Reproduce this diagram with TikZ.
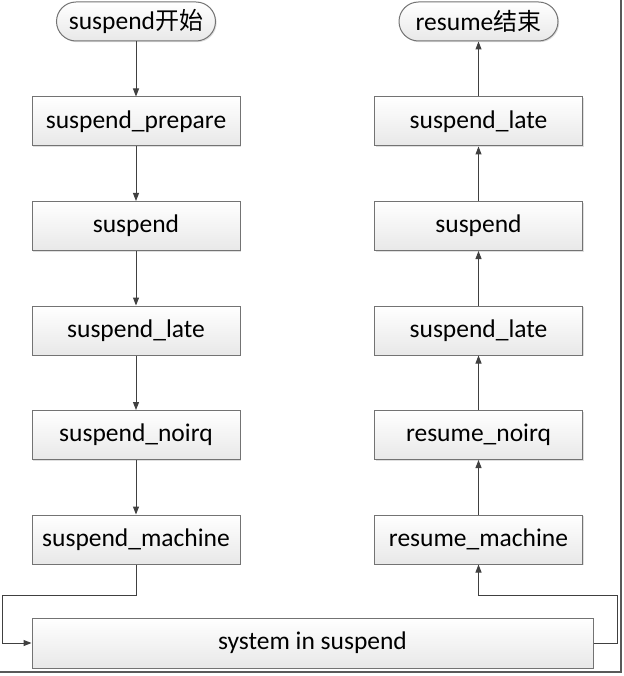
\documentclass[tikz,border=0pt]{standalone}
\usepackage{fontspec}
\setmainfont{Carlito}
\newfontfamily\cjk{Noto Sans CJK SC}
\usetikzlibrary{arrows.meta,shadows}
\tikzset{
  box/.style={shape=rectangle, draw=black!55, line width=1pt, top color=white, bottom color=black!9,
    minimum width=208pt, minimum height=49pt, font=\fontsize{25.5}{28}\selectfont,
    drop shadow={shadow xshift=1.2pt, shadow yshift=-1.2pt, opacity=.25}},
  term/.style={box, rounded corners=19.5pt, minimum width=159pt, minimum height=39pt, inner sep=0pt},
  flow/.style={draw=black!75, line width=1pt, -{Triangle[length=8pt, width=6pt]}}
}
\newcommand{\hanzi}[1]{{\cjk\fontsize{24}{26}\selectfont #1}}
\begin{document}
\begin{tikzpicture}[x=1pt, y=-1pt]
    \useasboundingbox (0, 0) rectangle (623, 676);
    % Boxes and arrows:
    \node[term](N1) at (136, 21.5){suspend\hanzi{开始}};
    \node[box](N2) at (136, 121.5){suspend\_prepare};
    \node[box](N3) at (136, 226){suspend};
    \node[box](N4) at (136, 330.5){suspend\_late};
    \node[box](N5) at (136, 435){suspend\_noirq};
    \node[box](N6) at (136, 539.5){suspend\_machine};
    \node[box, minimum width=561pt, minimum height=50pt](N7) at (312.5, 643){system in suspend};
    \node[box](N8) at (478.5, 539.5){resume\_machine};
    \node[box](N9) at (478.5, 435){resume\_noirq};
    \node[box](N10) at (478.5, 330.5){suspend\_late};
    \node[box](N11) at (478.5, 226){suspend};
    \node[box](N12) at (478.5, 121.5){suspend\_late};
    \node[term](N13) at (478.5, 21.5){resume\hanzi{结束}};
    \draw[flow] (N1) -- (N2);
    \draw[flow] (N2) -- (N3);
    \draw[flow] (N3) -- (N4);
    \draw[flow] (N4) -- (N5);
    \draw[flow] (N5) -- (N6);
    \draw[flow] (N6.south) |- (2, 595) |- (N7.west);
    \draw[flow] (N7.east) -| (617, 595) -| (N8.south);
    \draw[flow] (N8) -- (N9);
    \draw[flow] (N9) -- (N10);
    \draw[flow] (N10) -- (N11);
    \draw[flow] (N11) -- (N12);
    \draw[flow] (N12) -- (N13);
    \draw[black!65, line width=2pt] (0, 672) -- (620.5, 672) -- (620.5, 0);
  \end{tikzpicture}
\end{document}
